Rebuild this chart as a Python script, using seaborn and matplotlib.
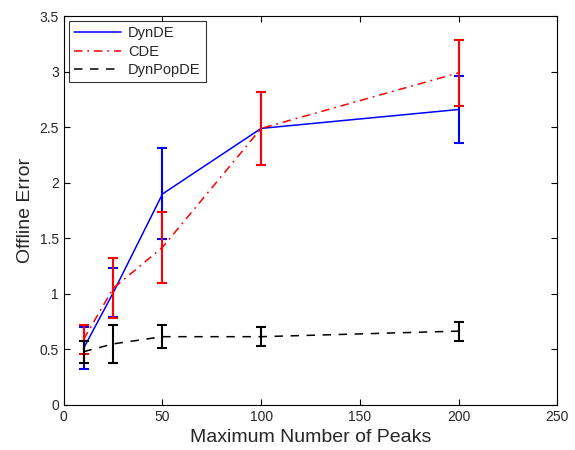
import matplotlib
matplotlib.use("Agg")
import matplotlib.pyplot as plt
import seaborn as sns
import pandas as pd
import numpy as np

peaks = [10, 25, 50, 100, 200]
dynde = [0.51, 1.01, 1.90, 2.49, 2.66]
dynde_err = [0.19, 0.22, 0.41, 0.33, 0.30]
cde = [0.59, 1.05, 1.42, 2.49, 2.99]
cde_err = [0.13, 0.27, 0.32, 0.33, 0.30]
dynpop = [0.48, 0.55, 0.615, 0.615, 0.665]
dynpop_err = [0.10, 0.17, 0.105, 0.085, 0.085]

sns.set_style("white")
plt.rcParams['font.family'] = ['Liberation Sans', 'DejaVu Sans']

fig = plt.figure(figsize=(5.75, 4.5), dpi=100)
ax = fig.add_axes([0.111, 0.1, 0.858, 0.864])

series = [("DynDE", dynde, dynde_err, "#0000ff", (None, None)),
          ("CDE", cde, cde_err, "#ff0000", (5.5, 3.2, 1.2, 3.2)),
          ("DynPopDE", dynpop, dynpop_err, "black", (5.5, 5.0))]

for name, vals, errs, col, dash in series:
    df = pd.DataFrame({"x": peaks, "y": vals})
    sns.lineplot(data=df, x="x", y="y", ax=ax, color=col,
                 linewidth=1.1, label=name)
    if dash[0] is not None:
        ax.lines[-1].set_dashes(dash)
    ax.errorbar(peaks, vals, yerr=errs, fmt="none", ecolor=col,
                elinewidth=1.5, capsize=3.5, capthick=1.5)

ax.set_xlim(0, 250)
ax.set_ylim(0, 3.5)
ax.set_xticks([0, 50, 100, 150, 200, 250])
ax.set_yticks(np.arange(0, 3.51, 0.5))
ax.set_yticklabels(["0", "0.5", "1", "1.5", "2", "2.5", "3", "3.5"])
ax.set_xlabel("Maximum Number of Peaks", fontsize=14)
ax.set_ylabel("Offline Error", fontsize=14)
ax.tick_params(direction="in", length=4, width=0.8, labelsize=10,
               top=True, right=True, bottom=True, left=True, color="black")
for s in ax.spines.values():
    s.set_color("black")
    s.set_linewidth(0.8)

leg = ax.legend(loc="upper left", fontsize=10.5, frameon=True, fancybox=False,
                borderpad=0.35, handlelength=3.2, labelspacing=0.3,
                borderaxespad=0.35, handletextpad=0.5)
leg.get_frame().set_edgecolor("black")
leg.get_frame().set_linewidth(0.8)
for h, (name, vals, errs, col, dash) in zip(leg.get_lines(), series):
    if dash[0] is not None:
        h.set_dashes(dash)

fig.savefig("out.png", dpi=100)
